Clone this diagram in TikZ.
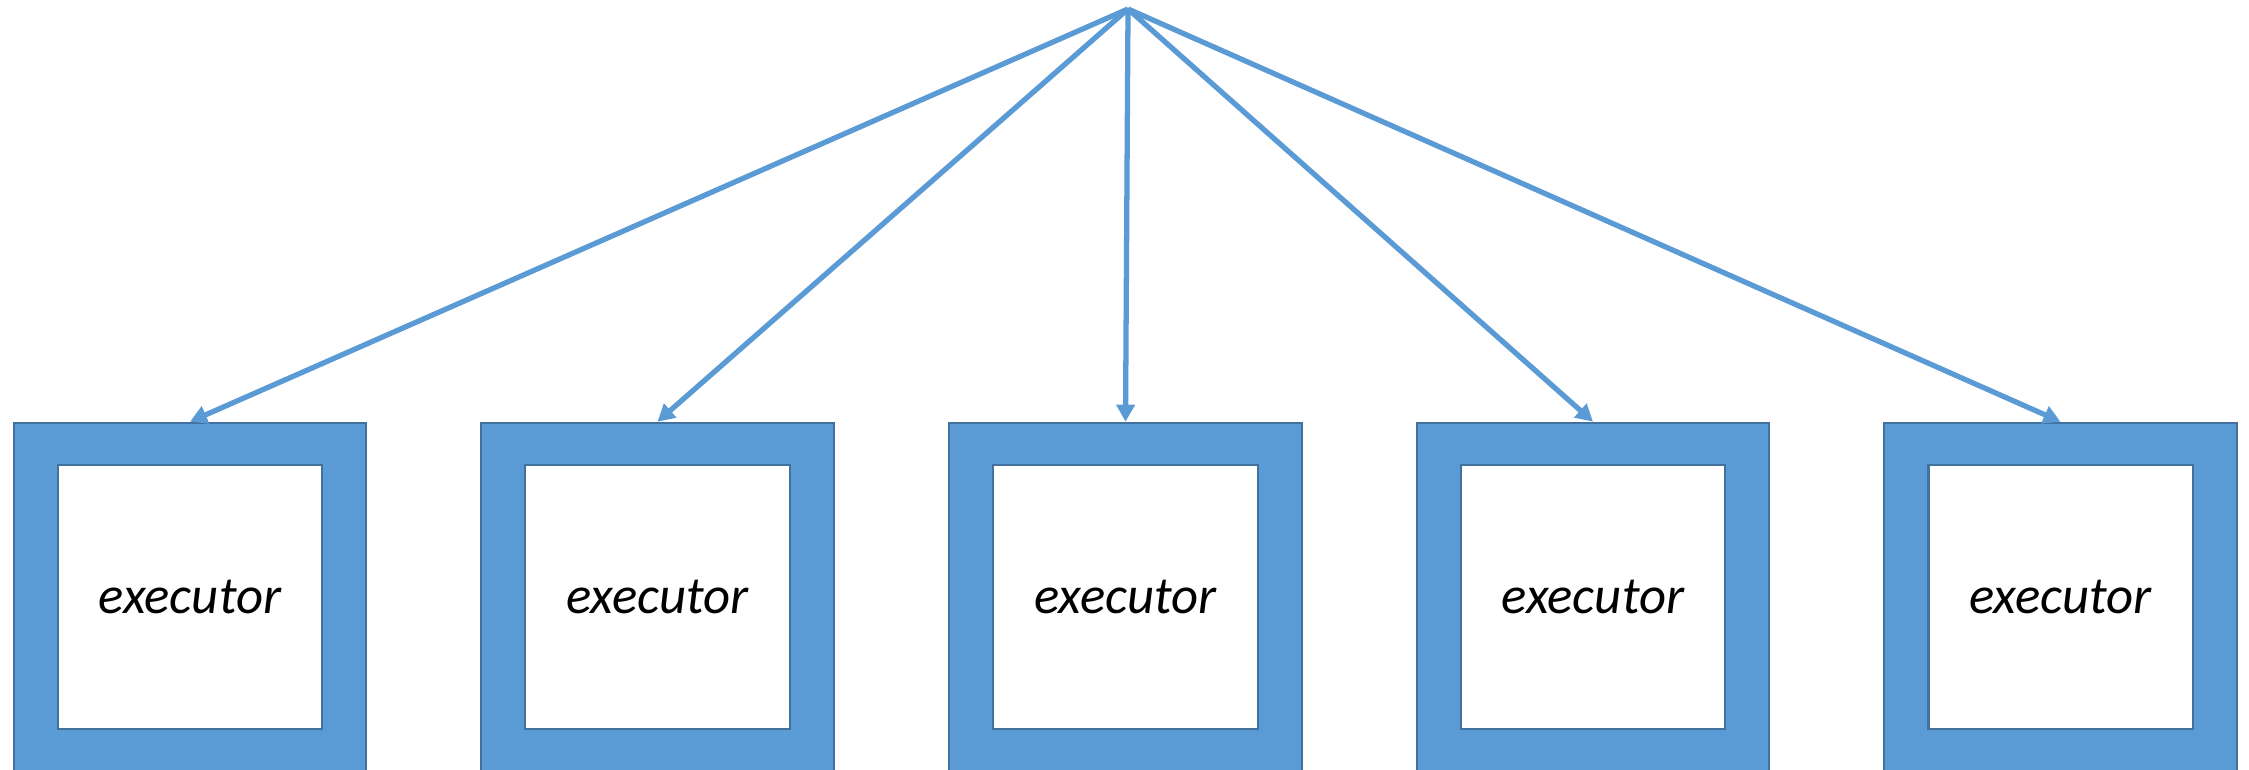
\documentclass[tikz,border=0pt]{standalone}
\usepackage{fontspec}
\setmainfont{Carlito}
\usetikzlibrary{arrows.meta}
\definecolor{exfill}{HTML}{5B9BD5}
\definecolor{exedge}{HTML}{41719C}
\begin{document}
\begin{tikzpicture}[x=0.01cm,y=-0.01cm,
  outer/.style={draw=exedge,line width=0.6pt,fill=exfill,minimum width=3.52cm,
    minimum height=3.7cm,anchor=north,inner sep=0pt},
  inner/.style={draw=exedge,line width=0.6pt,fill=white,minimum width=2.64cm,
    minimum height=2.64cm,inner sep=0pt,font=\fontsize{15}{18}\selectfont\itshape},
  link/.style={draw=exfill,line width=1.5pt,-{Triangle[width=0.18cm,length=0.17cm]}}]
\useasboundingbox (0,0) rectangle (2249,770);
\coordinate (src) at (1128,9);
% executor boxes: blue frame with a white panel holding the label
\foreach \i/\cx in {1/190,2/657.5,3/1125.5,4/1593,5/2060.5} {
  \node[outer] (box\i) at (\cx,421.7) {};
  \node[inner] (exec\i) at (\cx,597) {executor};
}
% fan-out from the common source point
\foreach \i in {1,...,5} {
  \draw[link] (src) -- (box\i.north);
}
\end{tikzpicture}
\end{document}
